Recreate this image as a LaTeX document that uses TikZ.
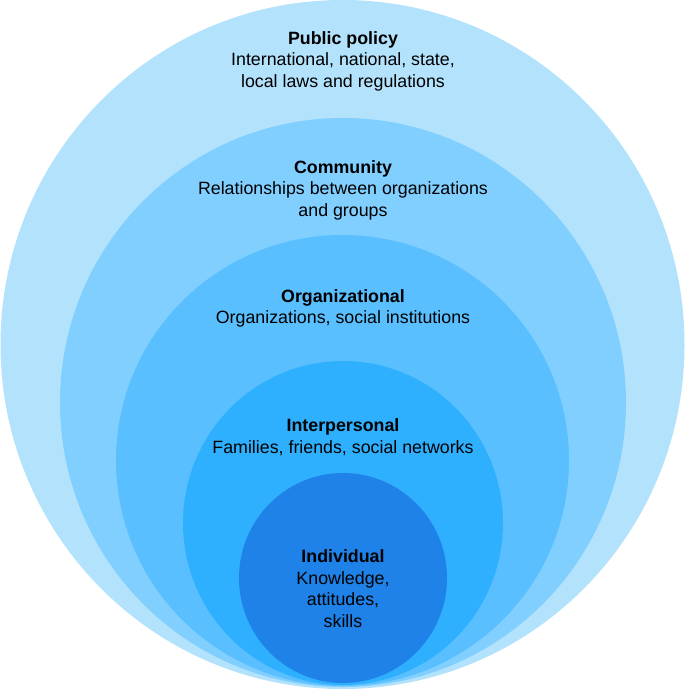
\documentclass[tikz,border=0pt]{standalone}
\usepackage{fontspec}
\setmainfont{Liberation Sans}
\definecolor{cPublic}{RGB}{179,226,252}
\definecolor{cCommunity}{RGB}{128,207,255}
\definecolor{cOrg}{RGB}{89,191,255}
\definecolor{cInter}{RGB}{46,176,255}
\definecolor{cIndiv}{RGB}{30,130,232}
\begin{document}
\begin{tikzpicture}[x=1pt,y=-1pt,
  lbl/.style={align=center,inner sep=0pt,font=\fontsize{17.8}{21.5}\selectfont,text=black}]
\useasboundingbox (0,0) rectangle (685,690);
\fill[cPublic] (342.5,344.5) ellipse [x radius=342, y radius=344.5];
\fill[cCommunity] (343,402.5) ellipse [x radius=283, y radius=284.5];
\fill[cOrg] (342.5,460.5) ellipse [x radius=226.5, y radius=225.5];
\fill[cInter] (343,523) ellipse [x radius=160, y radius=162];
\fill[cIndiv] (343,578) ellipse [x radius=104, y radius=105];
\node[lbl] (public) at (343,61) {\textbf{Public policy}\\International, national, state,\\local laws and regulations};
\node[lbl] (community) at (343,190) {\textbf{Community}\\Relationships between organizations\\and groups};
\node[lbl] (org) at (343,308.5) {\textbf{Organizational}\\Organizations, social institutions};
\node[lbl] (inter) at (343,437) {\textbf{Interpersonal}\\Families, friends, social networks};
\node[lbl] (indiv) at (343,588.5) {\textbf{Individual}\\Knowledge,\\attitudes,\\skills};
\end{tikzpicture}
\end{document}
